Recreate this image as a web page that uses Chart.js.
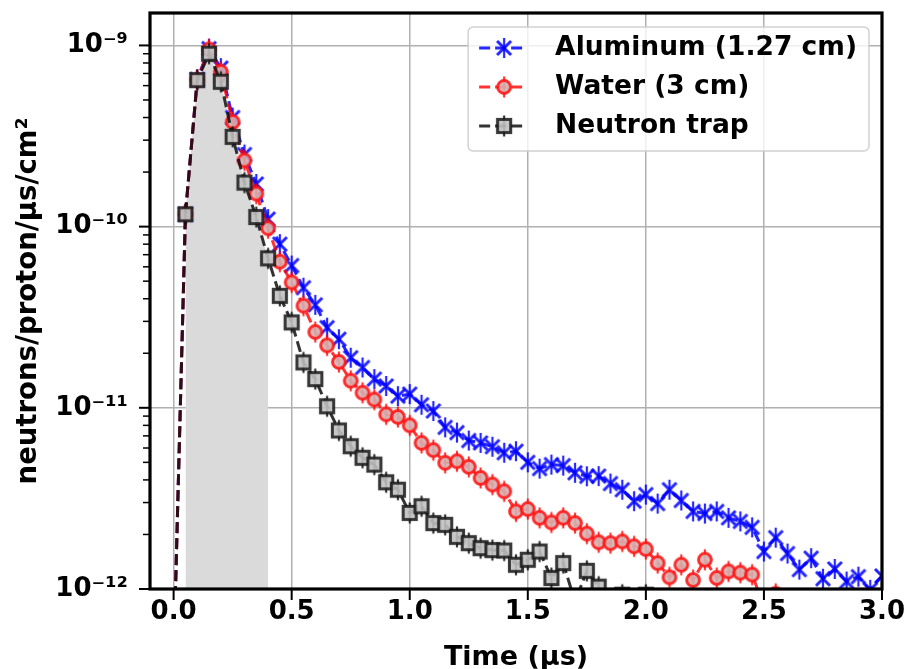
<!DOCTYPE html>
<html>
<head>
<meta charset="utf-8">
<script src="https://cdn.jsdelivr.net/npm/chart.js@4.4.1/dist/chart.umd.min.js"></script>
<style>
html,body{margin:0;padding:0;background:#ffffff;}
#wrap{width:907px;height:669px;}
</style>
</head>
<body>
<div id="wrap"><canvas id="c" width="907" height="669"></canvas></div>
<script>
// ---------- data ----------
const times = [0.00,0.05,0.10,0.15,0.20,0.25,0.30,0.35,0.40,0.45,0.50,0.55,0.60,0.65,0.70,0.75,0.80,0.85,0.90,0.95,
               1.00,1.05,1.10,1.15,1.20,1.25,1.30,1.35,1.40,1.45,1.50,1.55,1.60,1.65,1.70,1.75,1.80,1.85,1.90,1.95,
               2.00,2.05,2.10,2.15,2.20,2.25,2.30,2.35,2.40,2.45,2.50,2.55,2.60,2.65,2.70,2.75,2.80,2.85,2.90,2.95,3.00];

const aluminum = [4e-13,1.17e-10,6.5e-10,9.6e-10,7.5e-10,4.0e-10,2.5e-10,1.72e-10,1.1e-10,8.0e-11,6.1e-11,4.6e-11,3.7e-11,2.77e-11,2.39e-11,1.89e-11,1.67e-11,1.44e-11,1.32e-11,1.16e-11,
                  1.19e-11,1.04e-11,9.6e-12,7.8e-12,7.3e-12,6.6e-12,6.4e-12,6.1e-12,5.65e-12,5.76e-12,5.0e-12,4.62e-12,4.86e-12,4.8e-12,4.38e-12,4.19e-12,4.2e-12,3.82e-12,3.53e-12,3.05e-12,
                  3.32e-12,2.96e-12,3.53e-12,3.08e-12,2.68e-12,2.61e-12,2.68e-12,2.47e-12,2.36e-12,2.19e-12,1.61e-12,1.92e-12,1.57e-12,1.28e-12,1.48e-12,1.14e-12,1.29e-12,1.10e-12,1.17e-12,0.99e-12,1.18e-12];

const water = [4e-13,1.17e-10,6.45e-10,9.5e-10,7.15e-10,3.78e-10,2.32e-10,1.52e-10,9.8e-11,6.4e-11,4.92e-11,3.66e-11,2.62e-11,2.21e-11,1.79e-11,1.41e-11,1.21e-11,1.11e-11,9.2e-12,8.9e-12,
               8.0e-12,6.4e-12,5.84e-12,4.97e-12,5.07e-12,4.72e-12,4.1e-12,3.77e-12,3.46e-12,2.68e-12,2.76e-12,2.47e-12,2.33e-12,2.47e-12,2.31e-12,2.02e-12,1.81e-12,1.79e-12,1.83e-12,1.72e-12,
               1.66e-12,1.39e-12,1.16e-12,1.36e-12,1.12e-12,1.45e-12,1.15e-12,1.25e-12,1.23e-12,1.2e-12,8.0e-13,9.4e-13,7.5e-13];

const neutronTrap = [4e-13,1.17e-10,6.43e-10,9.0e-10,6.3e-10,3.13e-10,1.75e-10,1.13e-10,6.68e-11,4.15e-11,2.96e-11,1.78e-11,1.44e-11,1.02e-11,7.5e-12,6.14e-12,5.3e-12,4.86e-12,3.88e-12,3.53e-12,
                     2.63e-12,2.86e-12,2.31e-12,2.26e-12,1.94e-12,1.79e-12,1.68e-12,1.64e-12,1.63e-12,1.36e-12,1.45e-12,1.61e-12,1.15e-12,1.39e-12,8.5e-13,1.26e-12,1.03e-12,8.0e-13,9.3e-13,8.0e-13,
                     9.3e-13,8.0e-13];

const seriesLabels = ['Aluminum (1.27 cm)', 'Water (3 cm)', 'Neutron trap'];
const xTickValues = [0.0, 0.5, 1.0, 1.5, 2.0, 2.5, 3.0];
const yDecades = [1e-12, 1e-11, 1e-10, 1e-9];
const yDecadeLabels = ['10\u207B\u00B9\u00B2', '10\u207B\u00B9\u00B9', '10\u207B\u00B9\u2070', '10\u207B\u2079'];
const yMinorFactors = [2, 3, 4, 5, 6, 7, 8, 9];
const shadeStart = 0.05, shadeEnd = 0.40;
const xRange = [-0.1, 3.0];
const yRange = [1e-12, 1.51e-9];
const xTitle = 'Time (\u00B5s)';
const yTitle = 'neutrons/proton/\u00B5s/cm\u00B2';

// ---------- helpers ----------
function toXY(arr){ return arr.map((v,i)=>({x: times[i], y: v})); }
const shadeData = toXY(neutronTrap).filter(p => p.x >= shadeStart - 1e-9 && p.x <= shadeEnd + 1e-9);

const FONT = '"DejaVu Sans", "Liberation Sans", sans-serif';
const BLUE = 'rgba(0,0,255,0.85)';
const RED = 'rgba(255,0,0,0.8)';
const DARK = 'rgba(15,15,15,0.85)';

function makeMarker(kind){
  const c = document.createElement('canvas');
  c.width = 30; c.height = 30;
  const g = c.getContext('2d');
  g.translate(15, 15);
  if (kind === 'x') {
    g.strokeStyle = BLUE;
    g.lineWidth = 3;
    g.beginPath(); g.moveTo(-7,-7); g.lineTo(7,7); g.moveTo(7,-7); g.lineTo(-7,7); g.stroke();
    g.lineWidth = 2.2;
    g.beginPath(); g.moveTo(0,-10); g.lineTo(0,10); g.stroke();
  } else if (kind === 'o') {
    g.strokeStyle = RED;
    g.lineWidth = 2.2;
    g.beginPath(); g.moveTo(0,-10.5); g.lineTo(0,10.5); g.stroke();
    g.beginPath(); g.arc(0,0,6.4,0,Math.PI*2);
    g.fillStyle = 'rgba(214,176,176,0.9)'; g.fill();
    g.lineWidth = 3; g.strokeStyle = 'rgba(255,20,20,0.88)'; g.stroke();
  } else {
    g.strokeStyle = DARK;
    g.lineWidth = 2.2;
    g.beginPath(); g.moveTo(0,-10.5); g.lineTo(0,10.5); g.stroke();
    g.fillStyle = 'rgba(192,192,192,0.9)';
    g.fillRect(-6.6,-6.6,13.2,13.2);
    g.lineWidth = 3; g.strokeStyle = 'rgba(25,25,25,0.85)';
    g.strokeRect(-6.6,-6.6,13.2,13.2);
  }
  return c;
}
const markerAl = makeMarker('x');
const markerWater = makeMarker('o');
const markerTrap = makeMarker('s');

// ---------- plugins ----------
const frameAndTicks = {
  id: 'frameAndTicks',
  afterDatasetsDraw(chart){
    const {ctx, chartArea: a, scales} = chart;
    const x = scales.x, y = scales.y;
    ctx.save();
    ctx.strokeStyle = '#000';
    y.ticks.forEach(t => {
      const py = y.getPixelForValue(t.value);
      ctx.lineWidth = t.major ? 2 : 1.5;
      const len = t.major ? 11 : 7;
      ctx.beginPath(); ctx.moveTo(a.left - len, py); ctx.lineTo(a.left, py); ctx.stroke();
    });
    x.ticks.forEach(t => {
      const px = x.getPixelForValue(t.value);
      ctx.lineWidth = 2;
      ctx.beginPath(); ctx.moveTo(px, a.bottom); ctx.lineTo(px, a.bottom + 11); ctx.stroke();
    });
    ctx.lineWidth = 3.2;
    ctx.strokeRect(a.left, a.top, a.right - a.left, a.bottom - a.top);
    ctx.restore();
  }
};

const boxLegend = {
  id: 'boxLegend',
  afterDraw(chart){
    const {ctx, chartArea: a} = chart;
    const items = chart.data.datasets.filter(d => d.inLegend);
    ctx.save();
    ctx.font = 'bold 26.5px ' + FONT;
    const textW = Math.max(...items.map(d => ctx.measureText(d.label).width));
    const w = 87 + textW + 12, h = 124;
    const bx = a.right - 13 - w, by = a.top + 14;
    ctx.beginPath();
    if (ctx.roundRect) ctx.roundRect(bx, by, w, h, 5); else ctx.rect(bx, by, w, h);
    ctx.fillStyle = 'rgba(255,255,255,0.8)'; ctx.fill();
    ctx.lineWidth = 1.5; ctx.strokeStyle = 'rgba(204,204,204,0.9)'; ctx.stroke();
    items.forEach((d, i) => {
      const cy = by + 21 + i * 39;
      ctx.save();
      ctx.setLineDash(d.borderDash);
      ctx.strokeStyle = d.borderColor; ctx.lineWidth = d.borderWidth;
      ctx.beginPath(); ctx.moveTo(bx + 11, cy); ctx.lineTo(bx + 58, cy); ctx.stroke();
      ctx.restore();
      ctx.drawImage(d.pointStyle, bx + 36 - 15, cy - 15);
      ctx.fillStyle = '#000';
      ctx.textBaseline = 'middle';
      ctx.textAlign = 'left';
      ctx.fillText(d.label, bx + 87, cy);
    });
    ctx.restore();
  }
};

// ---------- chart ----------
const lineCommon = { borderWidth: 3, borderDash: [11, 5], fill: false, tension: 0, clip: 0, pointHoverRadius: 8, pointRadius: 8, inLegend: true };

new Chart(document.getElementById('c'), {
  type: 'line',
  data: {
    datasets: [
      Object.assign({}, lineCommon, { label: seriesLabels[0], data: toXY(aluminum), borderColor: BLUE, pointStyle: markerAl, order: 2 }),
      Object.assign({}, lineCommon, { label: seriesLabels[1], data: toXY(water), borderColor: RED, pointStyle: markerWater, order: 1 }),
      Object.assign({}, lineCommon, { label: seriesLabels[2], data: toXY(neutronTrap), borderColor: DARK, pointStyle: markerTrap, order: 0 }),
      { label: 'shade', data: shadeData, borderWidth: 0, pointRadius: 0, fill: 'start', backgroundColor: 'rgb(218,218,218)', order: 3, clip: 0, inLegend: false }
    ]
  },
  options: {
    responsive: false,
    animation: false,
    layout: { padding: { top: 13, right: 25, left: 0, bottom: 0 } },
    plugins: { legend: { display: false }, tooltip: { enabled: false } },
    scales: {
      x: {
        type: 'linear', min: xRange[0], max: xRange[1],
        afterBuildTicks: s => { s.ticks = xTickValues.map(v => ({ value: v })); },
        afterFit: s => { s.height = 80; s.paddingLeft = 0; s.paddingRight = 0; },
        grid: { color: '#b0b0b0', lineWidth: 1.5, drawTicks: false },
        border: { display: false },
        ticks: { padding: 8, color: '#000', autoSkip: false, maxRotation: 0,
                 font: { family: FONT, size: 26, weight: 'bold' },
                 callback: v => Number(v).toFixed(1) },
        title: { display: true, text: xTitle, color: '#000', font: { family: FONT, size: 27, weight: 'bold' }, padding: { top: 0, bottom: -5 } }
      },
      y: {
        type: 'logarithmic', min: yRange[0], max: yRange[1],
        afterBuildTicks: s => {
          const out = [];
          yDecades.forEach(d => {
            out.push({ value: d, major: true });
            yMinorFactors.forEach(f => { const v = d * f; if (v <= yRange[1]) out.push({ value: v, major: false }); });
          });
          s.ticks = out.filter(t => t.value >= yRange[0] && t.value <= yRange[1]);
        },
        afterFit: s => { s.width = 150; s.paddingTop = 0; s.paddingBottom = 0; },
        grid: { color: c => (c.tick && c.tick.major) ? '#b0b0b0' : 'rgba(0,0,0,0)', lineWidth: 1.5, drawTicks: false },
        border: { display: false },
        ticks: { padding: 22, color: '#000', autoSkip: false,
                 font: { family: FONT, size: 26, weight: 'bold' },
                 callback: v => { const i = yDecades.findIndex(d => Math.abs(d - v) / d < 1e-6); return i >= 0 ? yDecadeLabels[i] : ''; } },
        title: { display: true, text: yTitle, color: '#000', font: { family: FONT, size: 27.5, weight: 'bold' }, padding: { top: 12, bottom: 0 } }
      }
    }
  },
  plugins: [frameAndTicks, boxLegend]
});
</script>
</body>
</html>
